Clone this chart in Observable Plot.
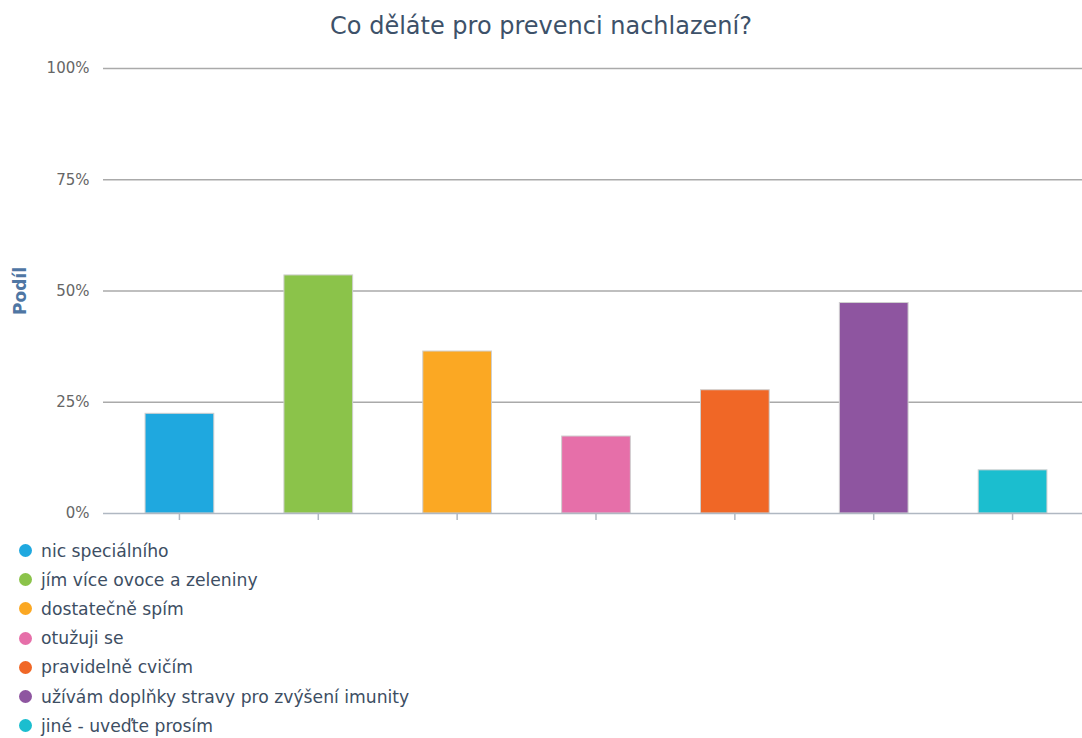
<!DOCTYPE html>
<html>
<head>
<meta charset="utf-8">
<script src="https://cdn.jsdelivr.net/npm/d3@7"></script>
<script src="https://cdn.jsdelivr.net/npm/@observablehq/plot@0.6"></script>
<style>
  html, body { margin: 0; padding: 0; background: #fff; }
  body { width: 1082px; height: 738px; overflow: hidden; font-family: "DejaVu Sans", sans-serif; }
  #title { height: 40px; line-height: 52px; text-align: center; font-size: 24px; color: #3d5169; }
  #chart svg { display: block; }
  #legend { margin-top: 6px; }
  .item { display: flex; align-items: center; height: 29.2px; font-size: 17.2px; color: #3d4e63; }
  .dot { width: 13px; height: 13px; border-radius: 50%; margin-left: 19px; margin-right: 9px; }
</style>
</head>
<body>
<div id="title">Co děláte pro prevenci nachlazení?</div>
<div id="chart"></div>
<div id="legend"></div>
<script>
// Survey answers and their shares (percent of respondents)
const answers = [
  "nic speciálního",
  "jím více ovoce a zeleniny",
  "dostatečně spím",
  "otužuji se",
  "pravidelně cvičím",
  "užívám doplňky stravy pro zvýšení imunity",
  "jiné - uveďte prosím"
];
const shares = [22.4, 53.5, 36.4, 17.3, 27.7, 47.3, 9.7];
const colors = ["#1fa8df", "#8bc34a", "#fba823", "#e66fa9", "#f06726", "#8e55a0", "#1bbecf"];
const yTicks = [0, 25, 50, 75, 100];

const data = answers.map((a, i) => ({answer: a, share: shares[i]}));

const chart = Plot.plot({
  width: 1082,
  height: 490,
  marginTop: 28,
  marginBottom: 17,
  marginLeft: 103,
  marginRight: 0,
  style: {fontFamily: "DejaVu Sans, sans-serif"},
  x: {domain: answers, paddingInner: 0.505, paddingOuter: 0.2525, insetLeft: 7, round: false, axis: null},
  y: {domain: [0, 100]},
  color: {domain: answers, range: colors},
  marks: [
    Plot.ruleY(yTicks.filter(d => d > 0), {stroke: "#aaaaaa", strokeWidth: 1.5}),
    Plot.axisY(yTicks, {
      tickSize: 0, tickPadding: 14, label: null,
      tickFormat: d => d + "%", fontSize: 15, fill: "#666"
    }),
    Plot.text(["Podíl"], {
      frameAnchor: "left", textAnchor: "middle", dx: -83, rotate: -90,
      fontSize: 17, fontWeight: "bold", fill: "#4f76a3"
    }),
    Plot.barY(data, {
      x: "answer", y: "share", fill: "answer",
      stroke: "#cfcfcf", strokeWidth: 1
    }),
    Plot.ruleY([0], {stroke: "#b0b8c2", strokeWidth: 1.5})
  ]
});
document.getElementById("chart").append(chart);

// Small tick marks below the baseline for each category
{
  const xs = chart.scale("x"), ys = chart.scale("y");
  const svg = d3.select(chart);
  const y0 = ys.apply(0);
  svg.append("g").selectAll("line").data(answers).join("line")
    .attr("x1", d => xs.apply(d) + xs.bandwidth / 2)
    .attr("x2", d => xs.apply(d) + xs.bandwidth / 2)
    .attr("y1", y0).attr("y2", y0 + 7)
    .attr("stroke", "#b0b8c2").attr("stroke-width", 1.5);
}

const legend = d3.select("#legend");
answers.forEach((a, i) => {
  const row = legend.append("div").attr("class", "item");
  row.append("span").attr("class", "dot").style("background", colors[i]);
  row.append("span").text(a);
});
</script>
</body>
</html>
